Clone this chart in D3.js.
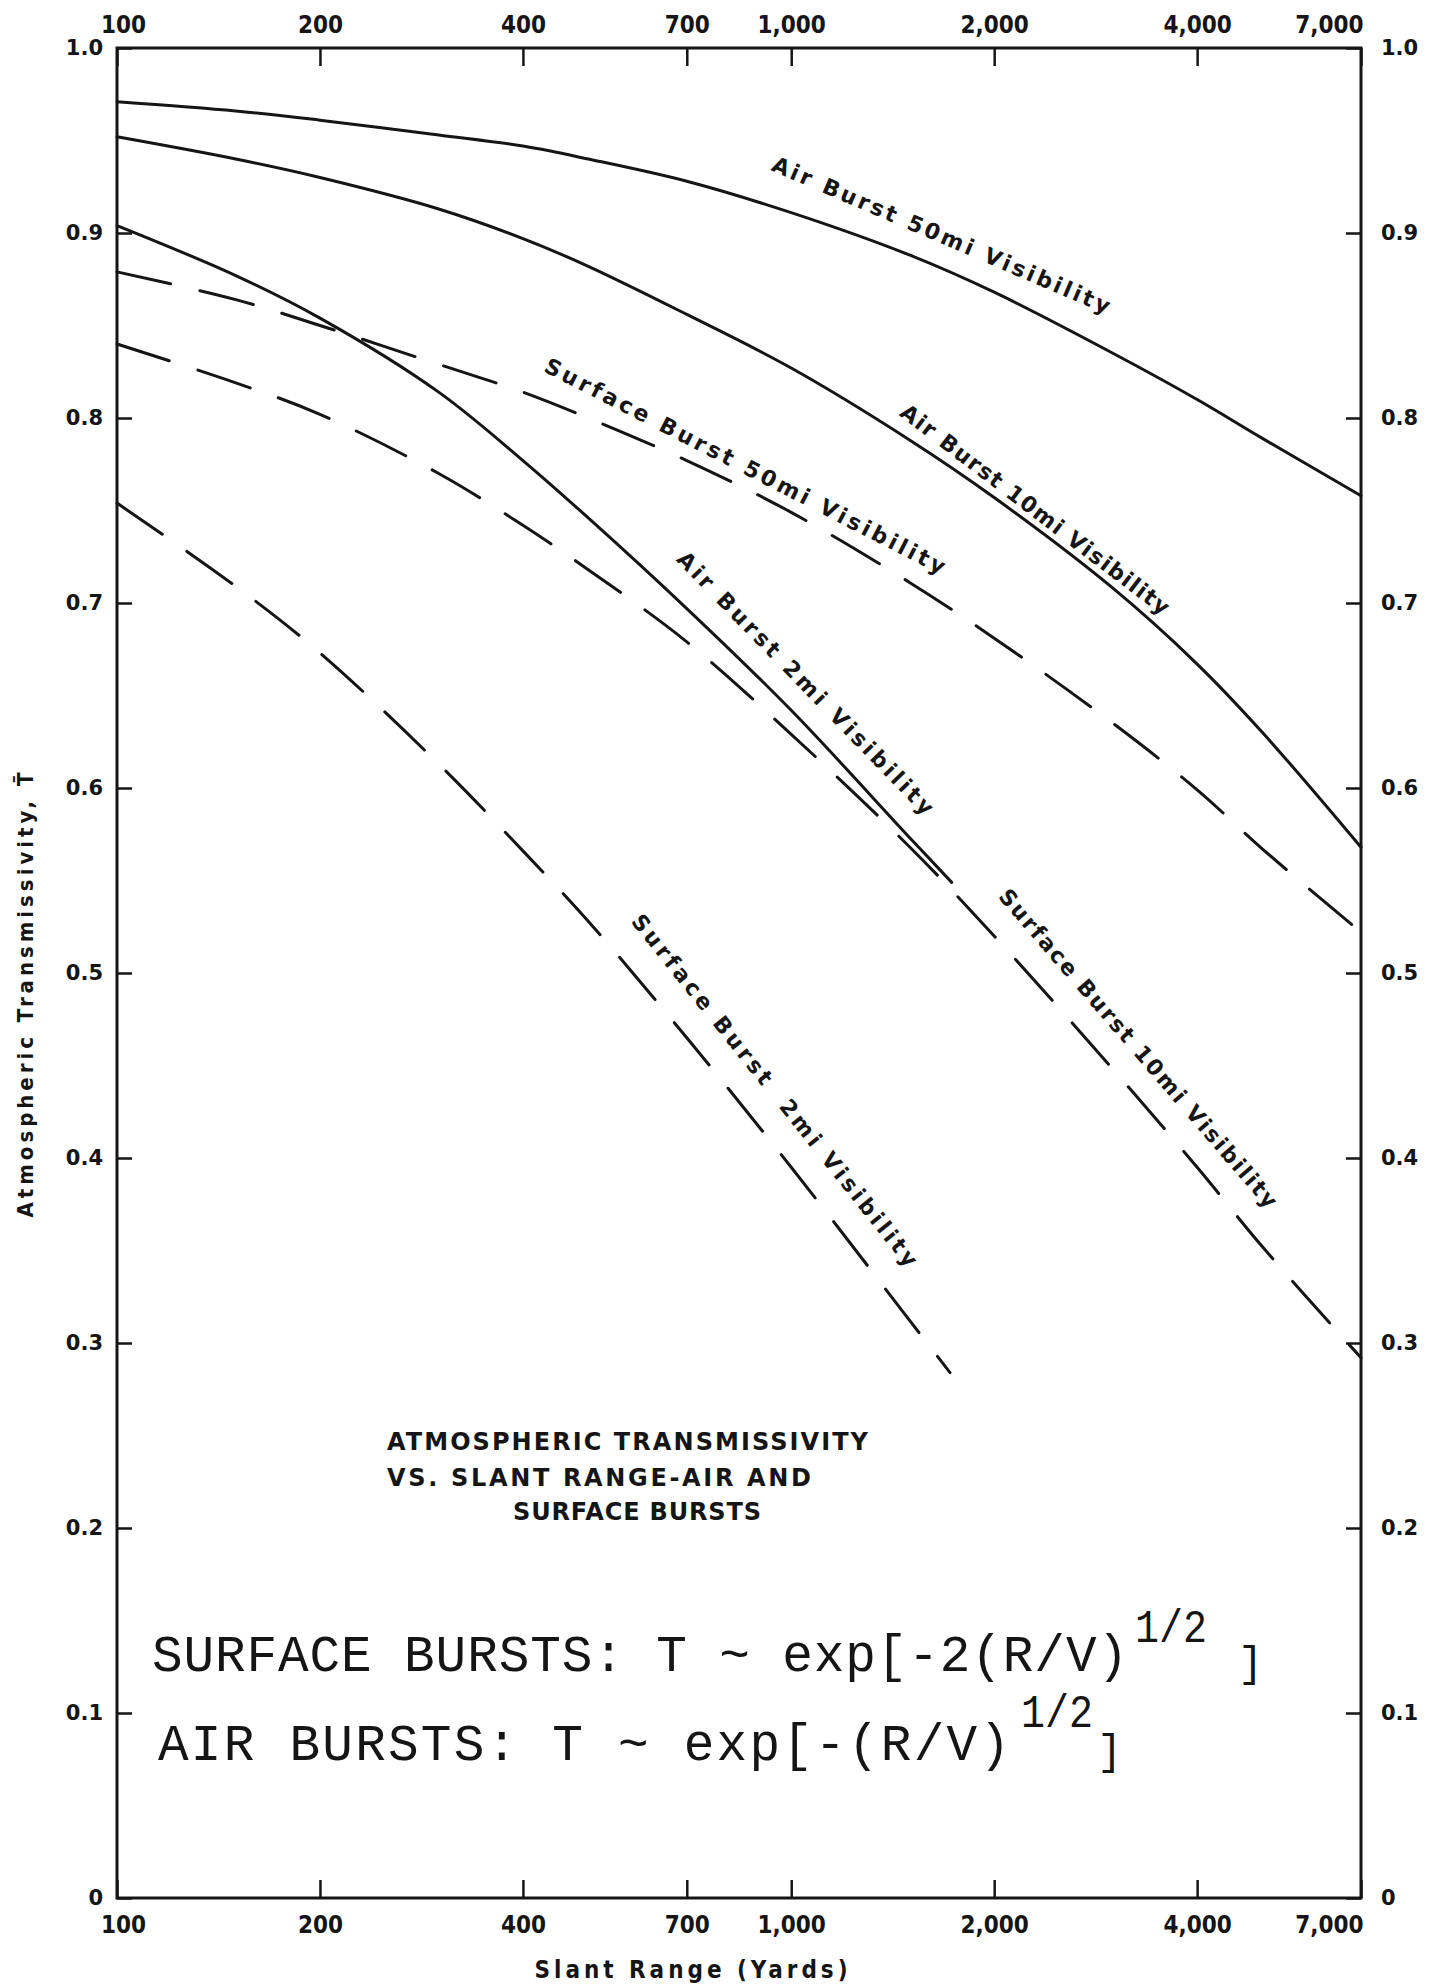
<!DOCTYPE html>
<html>
<head>
<meta charset="utf-8">
<script src="https://cdn.jsdelivr.net/npm/d3@7/dist/d3.min.js"></script>
<style>
  body { margin: 0; background: #fff; }
  svg text { fill: #151515; }
</style>
</head>
<body>
<svg id="chart" width="1430" height="1988"></svg>
<script>
// slant range in yards
var ranges      = [100, 150, 200, 300, 400, 500, 700, 1000, 1500, 2000, 3000, 4000, 5000, 7000];
var rangesAir2  = [100, 150, 200, 300, 400, 500, 700, 1000, 1500, 1730];
var rangesSurf2 = [100, 150, 200, 300, 400, 500, 700, 1000, 1500, 1720];

// transmissivity T
var air50  = [.971, .966, .961, .953, .947, .940, .928, .911, .888, .868, .835, .810, .789, .758];
var air10  = [.952, .940, .930, .913, .897, .882, .856, .827, .788, .757, .708, .667, .630, .568];
var air2   = [.904, .877, .854, .814, .777, .746, .697, .642, .573, .549];
var surf50 = [.879, .864, .850, .829, .814, .800, .777, .749, .711, .681, .635, .599, .567, .522];
var surf10 = [.840, .819, .802, .770, .742, .718, .679, .629, .568, .520, .448, .395, .352, .292];
var surf2  = [.754, .709, .673, .613, .566, .528, .465, .395, .312, .284];

var xTicks = [100, 200, 400, 700, 1000, 2000, 4000, 7000];
var yTicks = [0, .1, .2, .3, .4, .5, .6, .7, .8, .9, 1];

var svg = d3.select("#chart");
var plotL = 117, plotR = 1361, plotT = 48, plotB = 1898;

var x = d3.scaleLog().domain([100, 7000]).range([plotL, plotR]);
var y = d3.scaleLinear().domain([0, 1]).range([plotB, plotT]);

var series = [
  { r: ranges,      t: air50,  dashed: false, label: "Air Burst 50mi Visibility",      r1: 940,  r2: 2961, lift: 44 },
  { r: ranges,      t: air10,  dashed: false, label: "Air Burst 10mi Visibility",      r1: 1465, r2: 3609, lift: 27 },
  { r: rangesAir2,  t: air2,   dashed: false, label: "Air Burst 2mi Visibility",       r1: 686,  r2: 1606, lift: 48 },
  { r: ranges,      t: surf50, dashed: true,  label: "Surface Burst 50mi Visibility",  r1: 433,  r2: 1685, lift: 37 },
  { r: ranges,      t: surf10, dashed: true,  label: "Surface Burst 10mi Visibility",  r1: 2062, r2: 5183, lift: 54 },
  { r: rangesSurf2, t: surf2,  dashed: true,  label: "Surface Burst  2mi Visibility",  r1: 589,  r2: 1516, lift: 61 }
];

// axes
var xAxisTop = svg.append("g").attr("transform", "translate(0," + plotT + ")")
  .call(d3.axisTop(x).tickValues(xTicks).tickFormat(d3.format(",")).tickSizeInner(-18).tickSizeOuter(0).tickPadding(15));
var xAxisBot = svg.append("g").attr("transform", "translate(0," + plotB + ")")
  .call(d3.axisBottom(x).tickValues(xTicks).tickFormat(d3.format(",")).tickSizeInner(-18).tickSizeOuter(0).tickPadding(18));

var fmtY = function(d) { return d === 0 ? "0" : d3.format(".1f")(d); };
var yAxisL = svg.append("g").attr("transform", "translate(" + plotL + ",0)")
  .call(d3.axisLeft(y).tickValues(yTicks).tickFormat(fmtY).tickSizeInner(-15).tickSizeOuter(0).tickPadding(14));
var yAxisR = svg.append("g").attr("transform", "translate(" + plotR + ",0)")
  .call(d3.axisRight(y).tickValues(yTicks).tickFormat(fmtY).tickSizeInner(-15).tickSizeOuter(0).tickPadding(20));

[xAxisTop, xAxisBot, yAxisL, yAxisR].forEach(function(g) {
  g.select(".domain").remove();
  g.selectAll(".tick line").attr("stroke", "#151515").attr("stroke-width", 2.5);
  g.attr("font-weight", "bold");
});
[xAxisTop, xAxisBot].forEach(function(g) {
  g.attr("font-family", "'DejaVu Sans Condensed', 'DejaVu Sans', sans-serif").attr("font-size", 24);
  g.selectAll(".tick text").filter(function(d) { return d === 7000; })
    .attr("text-anchor", "end").attr("x", 2);
  g.selectAll(".tick text").filter(function(d) { return d === 100; })
    .attr("x", 6);
});
[yAxisL, yAxisR].forEach(function(g) {
  g.attr("font-family", "'DejaVu Sans', sans-serif").attr("font-size", 21);
});

// frame
svg.append("rect")
  .attr("x", plotL).attr("y", plotT)
  .attr("width", plotR - plotL).attr("height", plotB - plotT)
  .attr("fill", "none").attr("stroke", "#151515").attr("stroke-width", 3);

// curves
var line = d3.line()
  .x(function(d) { return x(d[0]); })
  .y(function(d) { return y(d[1]); })
  .curve(d3.curveCatmullRom.alpha(0.5));

series.forEach(function(s) {
  var pts = s.r.map(function(r, i) { return [r, s.t[i]]; });
  svg.append("path")
    .datum(pts)
    .attr("d", line)
    .attr("fill", "none")
    .attr("stroke", "#151515")
    .attr("stroke-width", 3)
    .attr("stroke-linecap", "round")
    .attr("stroke-dasharray", s.dashed ? "55,30" : null);
});

// value of a series at a range (log interpolation), used to sit labels on curves
function valueAt(s, r) {
  var lr = Math.log10(r);
  for (var i = 0; i < s.r.length - 1; i++) {
    var a = Math.log10(s.r[i]), b = Math.log10(s.r[i + 1]);
    if (lr >= a && lr <= b) return s.t[i] + (s.t[i + 1] - s.t[i]) * (lr - a) / (b - a);
  }
  return s.t[s.t.length - 1];
}

series.forEach(function(s) {
  var x1 = x(s.r1), y1 = y(valueAt(s, s.r1)) - s.lift;
  var x2 = x(s.r2), y2 = y(valueAt(s, s.r2)) - s.lift;
  var ang = Math.atan2(y2 - y1, x2 - x1) * 180 / Math.PI;
  var len = Math.hypot(x2 - x1, y2 - y1);
  svg.append("text")
    .attr("transform", "translate(" + ((x1 + x2) / 2) + "," + ((y1 + y2) / 2) + ") rotate(" + ang + ")")
    .attr("text-anchor", "middle")
    .attr("dominant-baseline", "central")
    .attr("font-family", "'DejaVu Sans', sans-serif")
    .attr("font-weight", "bold")
    .attr("font-size", 22)
    .attr("textLength", len)
    .attr("lengthAdjust", "spacing")
    .style("white-space", "pre")
    .text(s.label);
});

// axis titles
svg.append("text")
  .attr("x", 691).attr("y", 1978)
  .attr("text-anchor", "middle")
  .attr("font-family", "'DejaVu Sans Condensed', 'DejaVu Sans', sans-serif")
  .attr("font-weight", "bold").attr("font-size", 24)
  .attr("textLength", 313).attr("lengthAdjust", "spacing")
  .text("Slant Range (Yards)");

svg.append("text")
  .attr("transform", "translate(33,995) rotate(-90)")
  .attr("text-anchor", "middle")
  .attr("font-family", "'DejaVu Sans Condensed', 'DejaVu Sans', sans-serif")
  .attr("font-weight", "bold").attr("font-size", 22)
  .attr("textLength", 445).attr("lengthAdjust", "spacing")
  .text("Atmospheric Transmissivity, T\u0304");

// caption block
var caption = [
  { t: "ATMOSPHERIC TRANSMISSIVITY", x: 387, y: 1450, w: 481 },
  { t: "VS. SLANT RANGE-AIR AND",    x: 387, y: 1486, w: 424 },
  { t: "SURFACE BURSTS",             x: 513, y: 1520, w: 248 }
];
svg.selectAll(".cap").data(caption).enter().append("text")
  .attr("class", "cap")
  .attr("x", function(d) { return d.x; })
  .attr("y", function(d) { return d.y; })
  .attr("font-family", "'DejaVu Sans', sans-serif")
  .attr("font-weight", "bold").attr("font-size", 24)
  .attr("textLength", function(d) { return d.w; })
  .attr("lengthAdjust", "spacing")
  .text(function(d) { return d.t; });

// formulas
var mono = "'Liberation Mono', 'DejaVu Sans Mono', monospace";
function formula(main, x0, base, w, supX, supBase, brX, brBase) {
  svg.append("text").attr("x", x0).attr("y", base)
    .attr("font-family", mono).attr("font-size", 51)
    .attr("textLength", w).attr("lengthAdjust", "spacing")
    .style("white-space", "pre")
    .text(main);
  svg.append("text").attr("x", supX).attr("y", supBase)
    .attr("font-family", mono).attr("font-size", 46)
    .attr("textLength", 72).attr("lengthAdjust", "spacingAndGlyphs")
    .text("1/2");
  svg.append("text").attr("x", brX).attr("y", brBase)
    .attr("font-family", mono).attr("font-size", 42)
    .text("]");
}
formula("SURFACE BURSTS: T ~ exp[-2(R/V)", 152, 1671, 976, 1135, 1642, 1238, 1676);
formula("AIR BURSTS: T ~ exp[-(R/V)", 158, 1760, 852, 1021, 1727, 1097, 1764);
</script>
</body>
</html>
